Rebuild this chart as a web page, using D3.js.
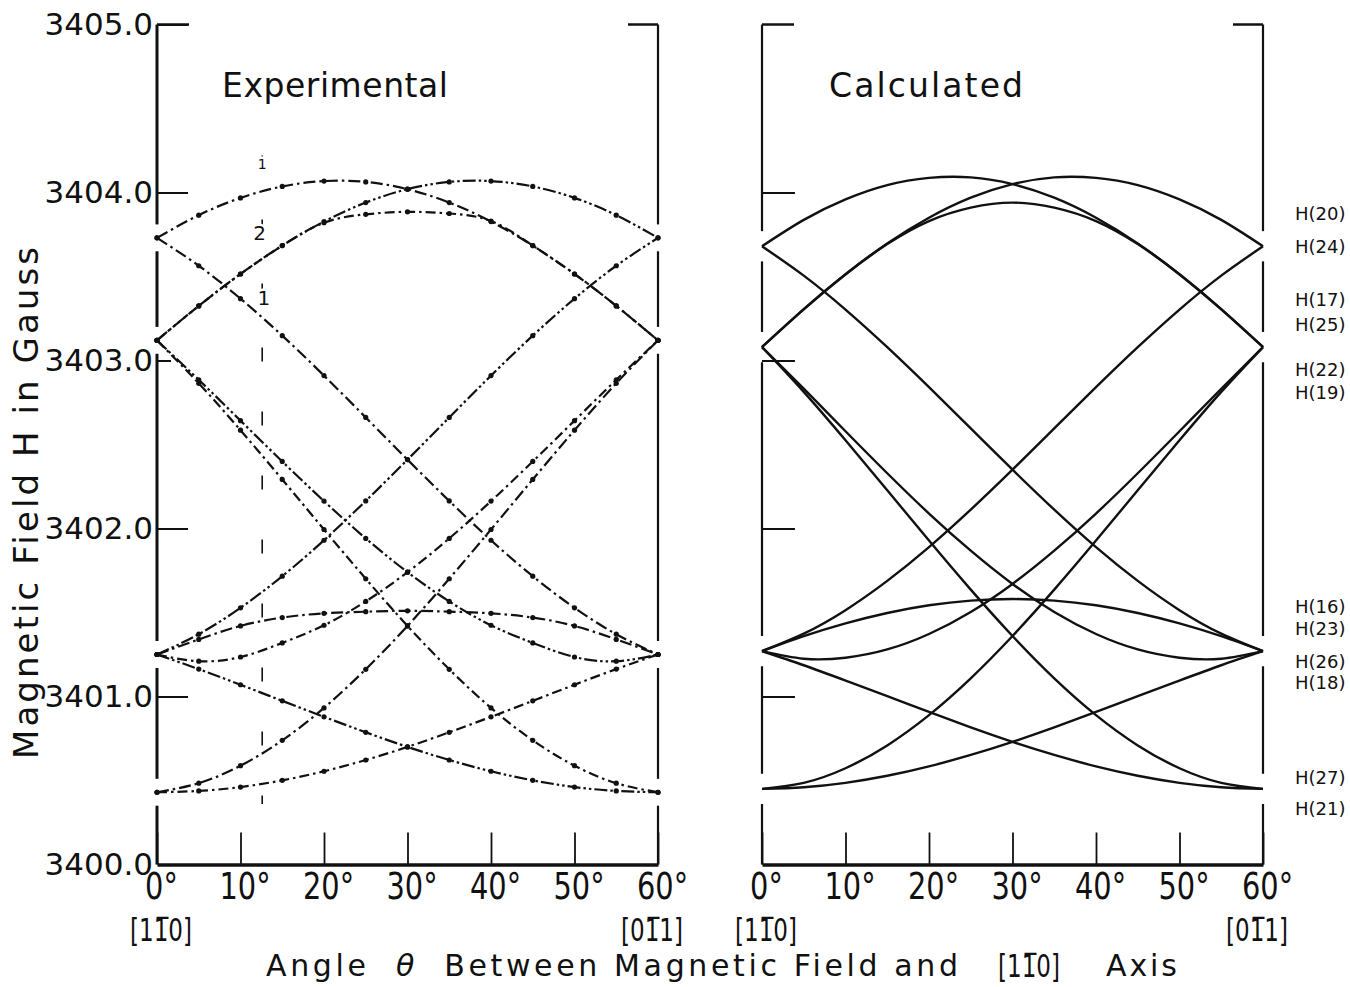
<!DOCTYPE html>
<html lang="en">
<head>
<meta charset="UTF-8">
<meta name="viewport" content="width=device-width, initial-scale=1.0">
<title>Field positions vs angle</title>
<script src="https://cdn.jsdelivr.net/npm/d3@7"></script>
<style>
  body { margin: 0; background: #fff; }
  svg text { font-family: "DejaVu Sans", "Liberation Sans", sans-serif; fill: #111; }
</style>
</head>
<body>
<svg></svg>
<script>
const angles = [0, 5, 10, 15, 20, 25, 30, 35, 40, 45, 50, 55, 60];

// experimental resonance fields (gauss)
const expA  = [3403.730, 3403.865, 3403.968, 3404.036, 3404.068, 3404.063, 3404.020, 3403.940, 3403.827, 3403.684, 3403.515, 3403.325, 3403.120];
const expA2 = [3403.120, 3403.325, 3403.515, 3403.684, 3403.827, 3403.940, 3404.020, 3404.063, 3404.068, 3404.036, 3403.968, 3403.865, 3403.730];
const expB  = [3403.120, 3403.325, 3403.515, 3403.684, 3403.820, 3403.870, 3403.885, 3403.875, 3403.830, 3403.684, 3403.515, 3403.325, 3403.120];
const expC  = [3403.730, 3403.564, 3403.368, 3403.148, 3402.910, 3402.661, 3402.410, 3402.164, 3401.930, 3401.716, 3401.528, 3401.371, 3401.250];
const expC2 = [3401.250, 3401.371, 3401.528, 3401.716, 3401.930, 3402.164, 3402.410, 3402.661, 3402.910, 3403.148, 3403.368, 3403.564, 3403.730];
const expD  = [3403.120, 3402.864, 3402.585, 3402.292, 3401.994, 3401.701, 3401.420, 3401.162, 3400.932, 3400.739, 3400.588, 3400.484, 3400.430];
const expD2 = [3400.430, 3400.484, 3400.588, 3400.739, 3400.932, 3401.162, 3401.420, 3401.701, 3401.994, 3402.292, 3402.585, 3402.864, 3403.120];
const expE  = [3403.120, 3402.885, 3402.642, 3402.399, 3402.163, 3401.941, 3401.740, 3401.566, 3401.424, 3401.319, 3401.235, 3401.210, 3401.250];
const expE2 = [3401.250, 3401.210, 3401.235, 3401.319, 3401.424, 3401.566, 3401.740, 3401.941, 3402.163, 3402.399, 3402.642, 3402.885, 3403.120];
const expF  = [3401.250, 3401.340, 3401.420, 3401.470, 3401.495, 3401.505, 3401.510, 3401.505, 3401.495, 3401.470, 3401.420, 3401.340, 3401.250];
const expL  = [3401.250, 3401.163, 3401.070, 3400.974, 3400.879, 3400.787, 3400.700, 3400.622, 3400.555, 3400.501, 3400.461, 3400.438, 3400.430];
const expL2 = [3400.430, 3400.438, 3400.461, 3400.501, 3400.555, 3400.622, 3400.700, 3400.787, 3400.879, 3400.974, 3401.070, 3401.163, 3401.250];

// calculated resonance fields (gauss)
const calcA  = [3403.680, 3403.837, 3403.959, 3404.044, 3404.087, 3404.090, 3404.050, 3403.969, 3403.850, 3403.697, 3403.514, 3403.306, 3403.080];
const calcA2 = [3403.080, 3403.306, 3403.514, 3403.697, 3403.850, 3403.969, 3404.050, 3404.090, 3404.087, 3404.044, 3403.959, 3403.837, 3403.680];
const calcB  = [3403.080, 3403.304, 3403.512, 3403.693, 3403.830, 3403.910, 3403.940, 3403.910, 3403.830, 3403.693, 3403.512, 3403.304, 3403.080];
const calcC  = [3403.680, 3403.505, 3403.303, 3403.079, 3402.841, 3402.596, 3402.350, 3402.112, 3401.889, 3401.688, 3401.514, 3401.374, 3401.270];
const calcC2 = [3401.270, 3401.374, 3401.514, 3401.688, 3401.889, 3402.112, 3402.350, 3402.596, 3402.841, 3403.079, 3403.303, 3403.505, 3403.680];
const calcD  = [3403.080, 3402.813, 3402.525, 3402.228, 3401.928, 3401.636, 3401.360, 3401.108, 3400.889, 3400.709, 3400.573, 3400.486, 3400.450];
const calcD2 = [3400.450, 3400.486, 3400.573, 3400.709, 3400.889, 3401.108, 3401.360, 3401.636, 3401.928, 3402.228, 3402.525, 3402.813, 3403.080];
const calcE  = [3403.080, 3402.832, 3402.579, 3402.329, 3402.089, 3401.868, 3401.670, 3401.503, 3401.372, 3401.280, 3401.231, 3401.225, 3401.270];
const calcE2 = [3401.270, 3401.225, 3401.231, 3401.280, 3401.372, 3401.503, 3401.670, 3401.868, 3402.089, 3402.329, 3402.579, 3402.832, 3403.080];
const calcF  = [3401.270, 3401.359, 3401.435, 3401.497, 3401.543, 3401.571, 3401.580, 3401.571, 3401.543, 3401.497, 3401.435, 3401.359, 3401.270];
const calcL  = [3401.270, 3401.186, 3401.095, 3401.002, 3400.908, 3400.816, 3400.730, 3400.652, 3400.584, 3400.528, 3400.486, 3400.460, 3400.450];
const calcL2 = [3400.450, 3400.460, 3400.486, 3400.528, 3400.584, 3400.652, 3400.730, 3400.816, 3400.908, 3401.002, 3401.095, 3401.186, 3401.270];

// line names printed at the right edge of the calculated panel
const hLabels = ['H(20)', 'H(24)', 'H(17)', 'H(25)', 'H(22)', 'H(19)', 'H(16)', 'H(23)', 'H(26)', 'H(18)', 'H(27)', 'H(21)'];
const hLabelFields = [3403.875, 3403.679, 3403.363, 3403.214, 3402.946, 3402.810, 3401.536, 3401.405, 3401.208, 3401.083, 3400.518, 3400.333];

const yTicks = [3400, 3401, 3402, 3403, 3404, 3405];
const xTicks = [0, 10, 20, 30, 40, 50, 60];
// fields where the curves meet at 0 and 60 degrees
const expNodes = [3400.43, 3401.25, 3403.12, 3403.73];
const calcNodes = [3400.45, 3401.27, 3403.08, 3403.68];

const width = 1350, height = 987;
const ink = '#111';

const svg = d3.select('svg')
    .attr('width', width)
    .attr('height', height)
    .style('background', '#fff');

const y = d3.scaleLinear().domain([3400, 3405]).range([864.5, 24.5]);
const xExp = d3.scaleLinear().domain([0, 60]).range([157, 658]);
const xCalc = d3.scaleLinear().domain([0, 60]).range([762, 1263]);

const lineFor = x => d3.line()
    .x((d, i) => x(angles[i]))
    .y(d => y(d))
    .curve(d3.curveNatural);

// frame: vertical sides broken where the curves meet them, bottom axis with inner ticks
function drawFrame(x, nodes, gap, sideWidth) {
    const g = svg.append('g');
    const segs = [];
    let lo = 3400;
    nodes.forEach(n => { segs.push([lo, n - gap]); lo = n + gap; });
    segs.push([lo, 3405]);
    [0, 60].forEach(a => {
        g.selectAll(null)
            .data(segs)
            .join('line')
            .attr('x1', x(a)).attr('x2', x(a))
            .attr('y1', d => y(d[0])).attr('y2', d => y(d[1]))
            .attr('stroke', ink)
            .attr('stroke-width', a === 0 ? sideWidth : 2.2);
    });
    // short caps at the top corners
    g.append('line').attr('x1', x(0)).attr('x2', x(0) + 32).attr('y1', y(3405)).attr('y2', y(3405))
        .attr('stroke', ink).attr('stroke-width', 2.5);
    g.append('line').attr('x1', x(60) - 30).attr('x2', x(60)).attr('y1', y(3405)).attr('y2', y(3405))
        .attr('stroke', ink).attr('stroke-width', 2.5);

    const ax = svg.append('g')
        .attr('transform', `translate(0, ${y(3400)})`)
        .call(d3.axisBottom(x).tickValues(xTicks).tickSizeInner(-32).tickSizeOuter(0).tickPadding(8)
            .tickFormat(d => d + '°'));
    ax.attr('font-family', null).attr('font-size', 38);
    ax.select('.domain').attr('stroke', ink).attr('stroke-width', 3.5);
    ax.selectAll('.tick line').attr('stroke', ink).attr('stroke-width', 1.8);
    ax.selectAll('.tick text').attr('transform', 'translate(4,0) scale(0.76,1)');

    // crystal directions under 0 and 60 degrees
    [[0, '[11\u03050]'], [60, '[01\u03051]']].forEach(([a, t]) => {
        svg.append('text')
            .attr('transform', `translate(${x(a) + (a === 0 ? 4 : -6)}, 941) scale(0.72,1)`)
            .attr('text-anchor', 'middle')
            .attr('font-size', 32)
            .text(t);
    });
}

drawFrame(xExp, expNodes, 0.08, 3);
drawFrame(xCalc, calcNodes, 0.09, 2.2);

// left panel y axis with labels
const yAx = svg.append('g')
    .attr('transform', `translate(${xExp(0)}, 0)`)
    .call(d3.axisLeft(y).tickValues(yTicks).tickFormat(d3.format('.1f')).tickSizeInner(-31).tickPadding(4));
yAx.attr('font-family', null).attr('font-size', 31);
yAx.select('.domain').remove();
yAx.selectAll('.tick line')
    .attr('stroke', ink).attr('stroke-width', 2)
    .attr('x2', d => d === 3403 ? 14 : d === 3400 ? 0 : 31);

// right panel y ticks, no labels
const yAx2 = svg.append('g')
    .attr('transform', `translate(${xCalc(0)}, 0)`)
    .call(d3.axisLeft(y).tickValues([3401, 3402, 3403, 3404]).tickFormat('').tickSizeInner(-33));
yAx2.select('.domain').remove();
yAx2.selectAll('.tick line').attr('stroke', ink).attr('stroke-width', 2);

// experimental curves: dash-dot lines through measured points
const expSeries = [expA, expA2, expB, expC, expC2, expD, expD2, expE, expE2, expF, expL, expL2];
const dashes = ['12 4 2.5 4', '13 3 2.5 3 2.5 3', '10 4 2.5 4'];
const gExp = svg.append('g');
gExp.selectAll('path')
    .data(expSeries)
    .join('path')
    .attr('d', lineFor(xExp))
    .attr('fill', 'none')
    .attr('stroke', ink)
    .attr('stroke-width', 2.2)
    .attr('stroke-dasharray', (d, i) => dashes[i % dashes.length]);
gExp.selectAll('g')
    .data(expSeries)
    .join('g')
    .selectAll('circle')
    .data(d => d)
    .join('circle')
    .attr('cx', (d, i) => xExp(angles[i]))
    .attr('cy', d => y(d))
    .attr('r', 2.6)
    .attr('fill', ink);

// dashed marker at about 12.6 degrees and its curve numbers
svg.append('line')
    .attr('x1', xExp(12.6)).attr('x2', xExp(12.6))
    .attr('y1', y(3404.22)).attr('y2', y(3400.36))
    .attr('stroke', ink).attr('stroke-width', 1.6)
    .attr('stroke-dasharray', '14 50');
[['1', 12.6, 3404.17, 14], ['2', 12.3, 3403.76, 20], ['1', 12.8, 3403.37, 20]].forEach(([t, a, v, fs]) => {
    svg.append('text')
        .attr('x', xExp(a)).attr('y', y(v))
        .attr('dy', '0.35em')
        .attr('text-anchor', 'middle')
        .attr('font-size', fs)
        .attr('fill', '#fff')
        .attr('stroke', '#fff').attr('stroke-width', 5)
        .text(t);
    svg.append('text')
        .attr('x', xExp(a)).attr('y', y(v))
        .attr('dy', '0.35em')
        .attr('text-anchor', 'middle')
        .attr('font-size', fs)
        .text(t);
});

// calculated curves
const calcSeries = [calcA, calcA2, calcB, calcC, calcC2, calcD, calcD2, calcE, calcE2, calcF, calcL, calcL2];
svg.append('g')
    .selectAll('path')
    .data(calcSeries)
    .join('path')
    .attr('d', lineFor(xCalc))
    .attr('fill', 'none')
    .attr('stroke', ink)
    .attr('stroke-width', 2.4);

// H(n) names
svg.append('g')
    .selectAll('text')
    .data(hLabels)
    .join('text')
    .attr('x', 1295)
    .attr('y', (d, i) => y(hLabelFields[i]))
    .attr('dy', '0.36em')
    .attr('font-size', 18)
    .text(d => d);

// panel titles
svg.append('text').attr('x', 222).attr('y', 97).attr('font-size', 33)
    .attr('textLength', 226).attr('lengthAdjust', 'spacing').text('Experimental');
svg.append('text').attr('x', 829).attr('y', 97).attr('font-size', 33)
    .attr('textLength', 194).attr('lengthAdjust', 'spacing').text('Calculated');

// axis titles
svg.append('text')
    .attr('transform', 'translate(38, 503) rotate(-90)')
    .attr('text-anchor', 'middle')
    .attr('font-size', 34)
    .attr('textLength', 512).attr('lengthAdjust', 'spacing')
    .text('Magnetic Field H in Gauss');

const xTitle = svg.append('text').attr('x', 266).attr('y', 976).attr('font-size', 30)
    .attr('textLength', 692).attr('lengthAdjust', 'spacing');
xTitle.append('tspan').text('Angle\u00a0\u00a0');
xTitle.append('tspan').attr('font-style', 'italic').text('θ');
xTitle.append('tspan').text('\u00a0\u00a0Between Magnetic Field and');
svg.append('text')
    .attr('transform', 'translate(1029, 977) scale(0.72,1)')
    .attr('text-anchor', 'middle')
    .attr('font-size', 32)
    .text('[11\u03050]');
svg.append('text').attr('x', 1106).attr('y', 976).attr('font-size', 30)
    .attr('textLength', 71).attr('lengthAdjust', 'spacing').text('Axis');
</script>
</body>
</html>
